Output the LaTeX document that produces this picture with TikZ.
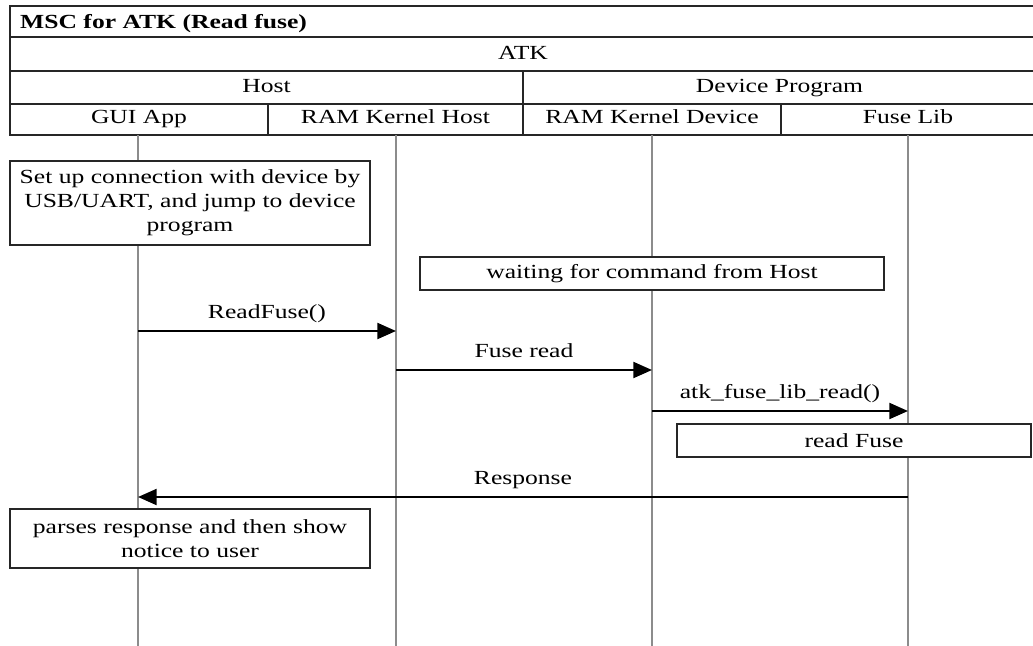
\documentclass[tikz,border=0pt]{standalone}
\usepackage{fontspec}
\setmainfont{Liberation Serif}[FakeStretch=1.28]
\usepackage{tikz}
\usetikzlibrary{arrows.meta}
\newcommand\mscfont{\fontsize{15}{18}\selectfont}
\tikzset{
  tbl/.style={draw=black!85, line width=1.6pt},
  life/.style={draw=black!45, line width=2pt},
  msg/.style={draw=black, line width=1.5pt, -{Triangle[length=14pt, width=12pt]}},
  act/.style={draw=black!85, line width=1.5pt, fill=white, align=center, inner sep=0pt},
  lbl/.style={midway, anchor=base, yshift=9.5pt},
}

\begin{document}
\begin{tikzpicture}[x=0.75pt, y=-0.75pt, every node/.style={font=\mscfont}]
\useasboundingbox (0,0) rectangle (1033,646);
% header table
\draw[tbl] (10,6) rectangle (1036,135);
\draw[tbl] (10,37) -- (1036,37) (10,71) -- (1036,71) (10,104) -- (1036,104);
\draw[tbl] (523,71) -- (523,135) (268,104) -- (268,135) (781,104) -- (781,135);
\node[anchor=base west, font=\mscfont\bfseries] (title) at (15.5,28) {MSC for ATK (Read fuse)};
\node[anchor=base] (atk) at (523,60) {ATK};
\node[anchor=base] (host) at (266.5,92.5) {Host};
\node[anchor=base] (dev) at (779.5,92.5) {Device Program};
\node[anchor=base] (guiapp) at (139,123) {GUI App};
\node[anchor=base] (rkhost) at (395.5,123) {RAM Kernel Host};
\node[anchor=base] (rkdev) at (652,123) {RAM Kernel Device};
\node[anchor=base] (fuselib) at (908,123) {Fuse Lib};

% lifelines
\coordinate (gui) at (138,135);
\coordinate (rkh) at (396,135);
\coordinate (rkd) at (652,135);
\coordinate (flib) at (908,135);
\coordinate (bot) at (0,646);
\foreach \l in {gui,rkh,rkd,flib}
  \draw[life] (\l) -- (\l |- bot);

% actions
\node[act, minimum width=270pt, minimum height=63pt] (setup) at (190,203)
  {Set up connection with device by\\USB/UART, and jump to device\\program};
\node[act, minimum width=348pt, minimum height=24.75pt] (wait) at (652,273.5) {waiting for command from Host};
\node[act, minimum width=265.5pt, minimum height=24.75pt] (rdfuse) at (854,440.5) {read Fuse};
\node[act, minimum width=270pt, minimum height=44.25pt] (parse) at (190,538.5)
  {parses response and then show\\notice to user};

% messages
\draw[msg] (gui |- 0,331) -- (rkh |- 0,331) node[lbl] (m1) {ReadFuse()};
\draw[msg] (rkh |- 0,370) -- (rkd |- 0,370) node[lbl] (m2) {Fuse read};
\draw[msg] (rkd |- 0,411) -- (flib |- 0,411) node[lbl] (m3) {atk\_fuse\_lib\_read()};
\draw[msg] (flib |- 0,497) -- (gui |- 0,497) node[lbl] (m4) {Response};
\end{tikzpicture}
\end{document}
